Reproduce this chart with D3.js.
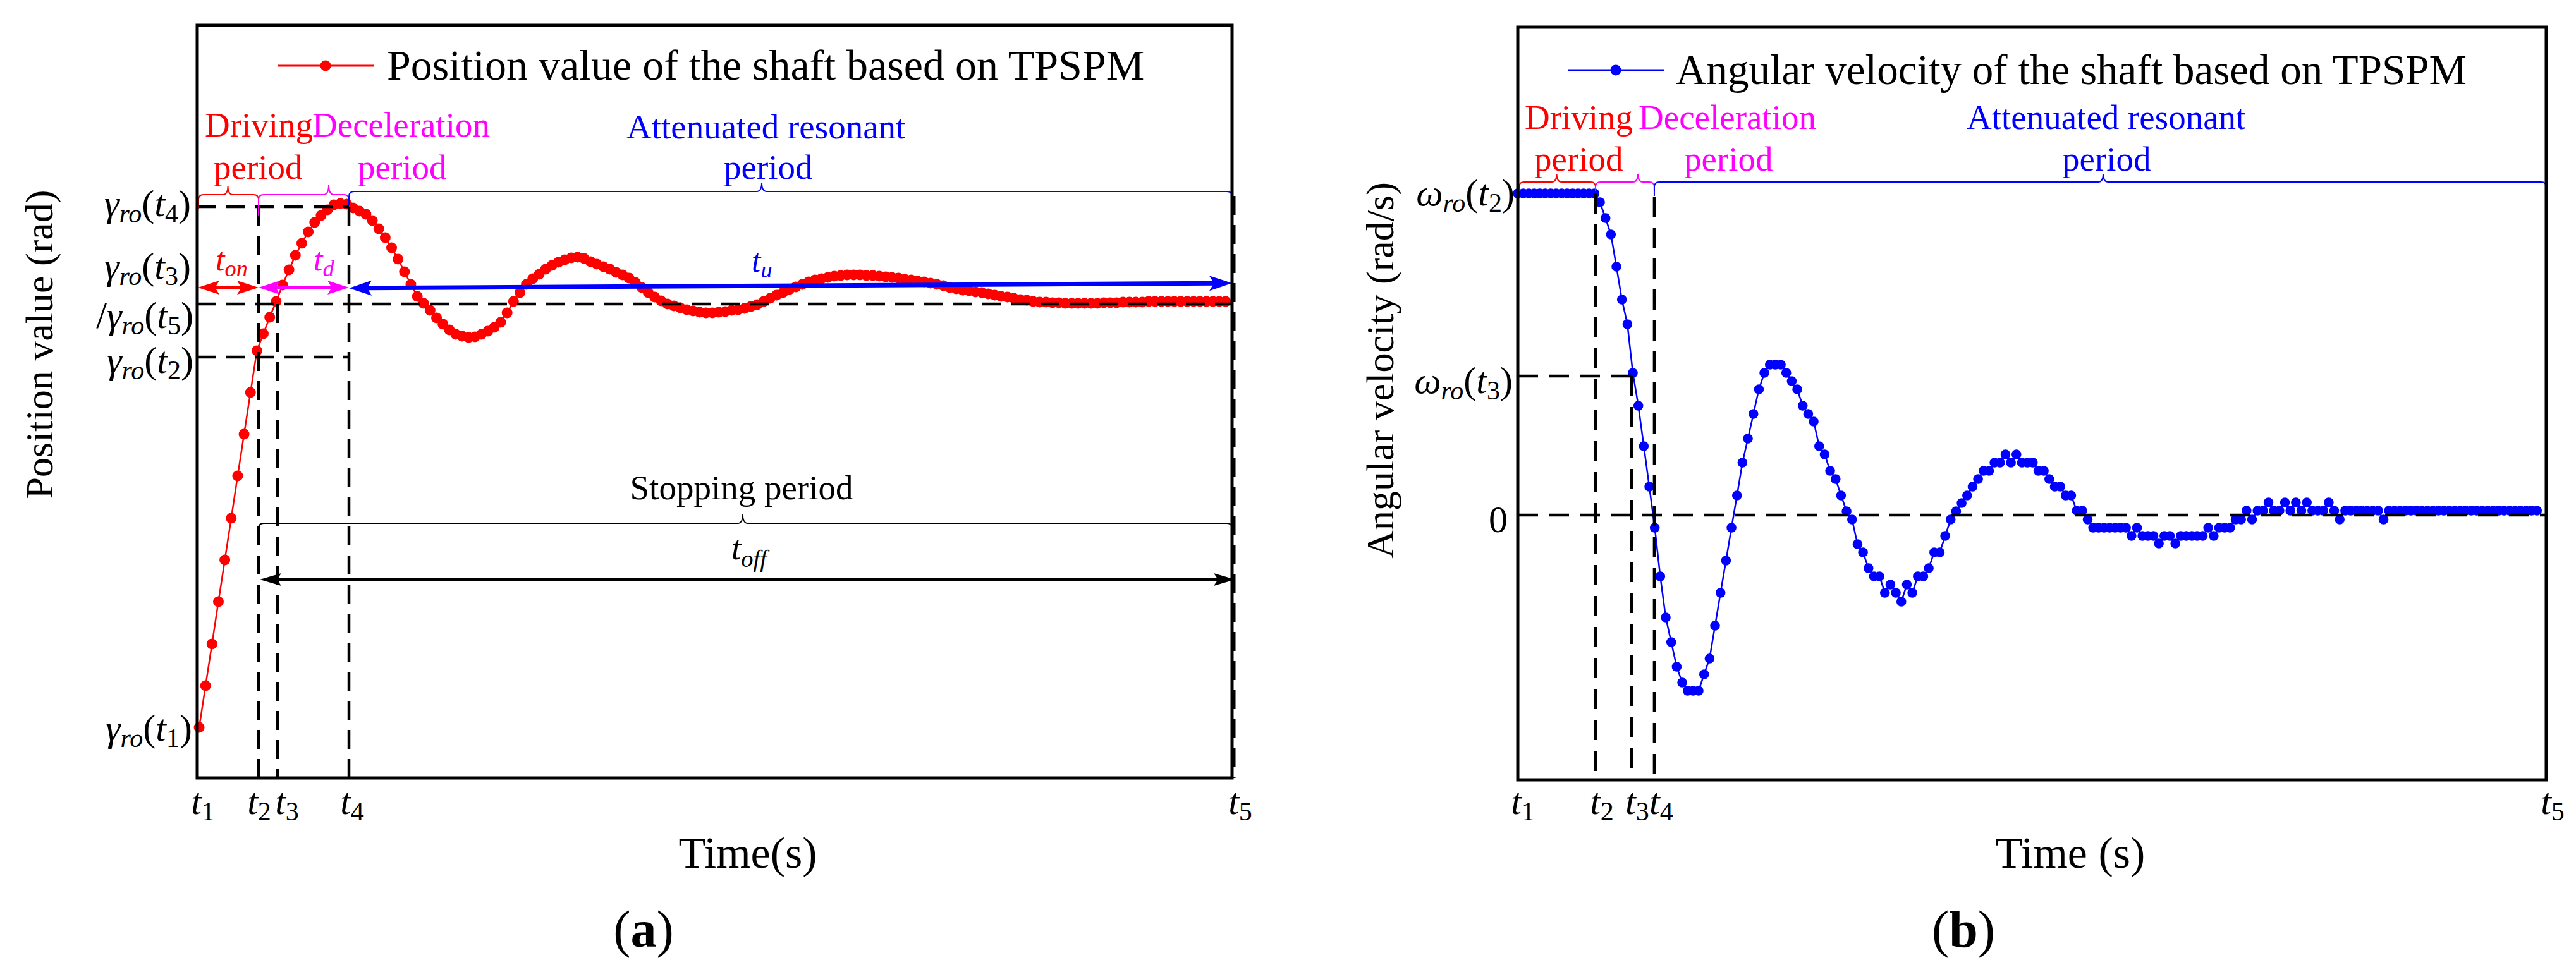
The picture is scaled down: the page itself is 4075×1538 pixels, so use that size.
<!DOCTYPE html>
<html><head><meta charset="utf-8">
<script src="https://cdn.jsdelivr.net/npm/d3@7"></script>
<style>
html,body{margin:0;padding:0;background:#fff;}
svg{display:block;font-family:"Liberation Serif","Times New Roman",serif;}
</style>
</head><body>
<svg id="chart" width="4075" height="1538"></svg>
<script>
// ---------------- DATA ----------------
// (a) position of the shaft, one value per sampling instant (arbitrary units, γro(t1)=0)
const positionValues = [
 6,72,138,205,271,337,404,470,536,602,
 629,655,680,706,730,753,772,790,805,816,
 825,833,835,834,828,823,818,808,795,781,
 765,747,727,707,688,677,666,654,644,635,
 628,625,623,624,628,633,639,647,662,680,
 694,707,716,723,731,737,742,746,749,750,
 748,743,739,735,731,726,722,717,710,702,
 694,687,681,676,673,670,667,665,663,662,
 662,663,664,666,667,669,672,675,680,685,
 690,694,699,703,707,711,714,716,718,720,
 721,722,722,722,721,721,720,719,718,717,
 715,714,712,711,709,707,705,702,700,698,
 697,695,694,692,690,688,687,685,683,682,
 680,679,679,678,678,677,677,677,677,677,
 677,678,678,678,679,679,679,679,680,680,
 680,680,680,680,680,680,680,680,680,680,
 680
];
// (b) angular velocity of the shaft, one value per sampling instant (arbitrary units)
const velocityValues = [
 509,509,509,509,509,509,509,509,509,509,509,509,509,509,509,
 495,470,444,393,341,302,225,173,109,45,
 -20,-97,-162,-201,-240,-265,-278,-278,-278,-252,
 -227,-175,-123,-72,-20,31,83,121,160,199,
 225,238,238,238,225,212,199,173,160,148,
 109,96,70,57,31,6,-7,-46,-59,-84,
 -97,-97,-123,-110,-123,-137,-110,-123,-97,-97,
 -84,-59,-59,-33,-7,6,19,31,45,57,
 70,70,83,83,96,83,96,83,83,83,
 70,70,57,45,45,31,31,7,7,-7,
 -20,-20,-20,-20,-20,-20,-20,-33,-20,-33,
 -33,-33,-45,-33,-33,-45,-33,-33,-33,-33,
 -33,-20,-33,-20,-20,-20,-7,-7,7,-7,
 7,7,20,7,7,20,7,20,7,20,
 7,7,7,20,7,-7,7,7,7,7,
 7,7,7,-7,7,7,7,7,7,7,
 7,7,7,7,7,7,7,7,7,7,
 7,7,7,7,7,7,7,7,7,7,7,7
];
// instants t1..t5 on each time axis (sample units)
const posTimeMarks = [-0.3, 9.26, 12.21, 23.35, 161.0];
const velTimeMarks = [0, 14.19, 20.76, 24.91, 187.7];
const timeTickNames = ["1","2","3","4","5"];
// characteristic levels
const posLevels = {t1:0, t2:592, t3t5:676, t4:830};   // γro(t1), γro(t2), γro(t3)/γro(t5), γro(t4)
const posDomain = [-74, 1117];
const velLevels = {t2:509, t3:220, zero:0};           // ωro(t2), ωro(t3), 0
const velDomain = [-419, 772];
// arrow levels (arbitrary units)
const posArrowLevel = 702, posArrowLevelEnd = 709, offArrowLevel = 240;

// ---------------- SETUP ----------------
const svg = d3.select("#chart");
const RED="#ff0000", MAG="#ff00ff", BLUE="#0000ff";
const DASH="30,16";

const xL = d3.scaleLinear().domain([posTimeMarks[0], posTimeMarks[4]]).range([312, 1949]);
const yL = d3.scaleLinear().domain(posDomain).range([1231, 40]);
const xR = d3.scaleLinear().domain([velTimeMarks[0], velTimeMarks[4]]).range([2401, 4028]);
const yR = d3.scaleLinear().domain(velDomain).range([1234, 43]);

const posData = positionValues.map((v,i)=>({t:i, v}));
const velData = velocityValues.map((v,i)=>({t:i, v}));

function richText(g, x, y, parts, o){
  const t = g.append("text").attr("x",x).attr("y",y)
    .attr("text-anchor", o.anchor||"start").attr("font-size", o.size)
    .attr("fill", o.color||"#000");
  let shift = 0;
  parts.forEach(p=>{
    const target = p.sub ? (o.subDy||10) : 0;
    const ts = t.append("tspan").text(p.s).attr("dy", target - shift);
    shift = target;
    if(p.sub) ts.attr("font-size", o.subSize || o.size*0.7);
    if(p.it) ts.attr("font-style","italic");
    if(p.b) ts.attr("font-weight","bold");
  });
  return t;
}
function arrow(g,x1,y1,x2,y2,color,w,startHead,endHead,hl,hw){
  const dx=x2-x1, dy=y2-y1, L=Math.hypot(dx,dy), ux=dx/L, uy=dy/L;
  const sx = startHead ? x1+ux*hl*0.7 : x1, sy = startHead ? y1+uy*hl*0.7 : y1;
  const ex = endHead ? x2-ux*hl*0.7 : x2, ey = endHead ? y2-uy*hl*0.7 : y2;
  g.append("line").attr("x1",sx).attr("y1",sy).attr("x2",ex).attr("y2",ey)
    .attr("stroke",color).attr("stroke-width",w);
  function head(px,py,dx_,dy_){
    const bx=px-dx_*hl, by=py-dy_*hl, nx=-dy_, ny=dx_;
    const mx=px-dx_*hl*0.8, my=py-dy_*hl*0.8;
    g.append("path").attr("d",`M${px},${py}L${bx+nx*hw},${by+ny*hw}L${mx},${my}L${bx-nx*hw},${by-ny*hw}Z`)
      .attr("fill",color);
  }
  if(endHead) head(x2,y2,ux,uy);
  if(startHead) head(x1,y1,-ux,-uy);
}
function brace(g,x0,x1,y,tipX,color,drop0,drop1,tipH,w){
  const r=8;
  const d = `M${x0},${y+drop0}L${x0},${y+r}Q${x0},${y} ${x0+r},${y}`+
            `L${tipX-r},${y}Q${tipX},${y} ${tipX},${y-tipH}Q${tipX},${y} ${tipX+r},${y}`+
            `L${x1-r},${y}Q${x1},${y} ${x1},${y+r}L${x1},${y+drop1}`;
  g.append("path").attr("d",d).attr("fill","none").attr("stroke",color).attr("stroke-width",w);
}
function dashed(g,x1,y1,x2,y2,w,da){
  g.append("line").attr("x1",x1).attr("y1",y1).attr("x2",x2).attr("y2",y2)
    .attr("stroke","#000").attr("stroke-width",w||4.5).attr("stroke-dasharray",da||DASH);
}

// ================= PANEL (a) =================
const gA = svg.append("g");
const T = posTimeMarks.map(t=>xL(t));
const yBot = yL(posDomain[0]), yTop = yL(posDomain[1]);

// data line + dots
gA.append("path").datum(posData)
  .attr("d", d3.line().x(d=>xL(d.t)).y(d=>yL(d.v)))
  .attr("fill","none").attr("stroke",RED).attr("stroke-width",2.5);
gA.append("g").selectAll("circle").data(posData).join("circle")
  .attr("cx",d=>xL(d.t)).attr("cy",d=>yL(d.v)).attr("r",8.5).attr("fill",RED);

// dashed guides
dashed(gA, T[0], yL(posLevels.t4), T[3], yL(posLevels.t4));
dashed(gA, T[0], yL(posLevels.t3t5), T[4], yL(posLevels.t3t5));
dashed(gA, T[0], yL(posLevels.t2), T[3], yL(posLevels.t2));
dashed(gA, T[1], yL(posLevels.t4), T[1], yBot);
dashed(gA, T[2], yL(posLevels.t3t5), T[2], yBot);
dashed(gA, T[3], yL(posLevels.t4), T[3], yBot);
dashed(gA, T[4]+3, 310, T[4]+3, yBot, 5);

// arrows
const ya = yL(posArrowLevel);
arrow(gA, T[0]+1, ya, T[1], ya, RED, 5, true, true, 34, 11);
arrow(gA, T[1], ya, T[3], ya, MAG, 5, true, true, 34, 11);
arrow(gA, T[3], ya+1, T[4], yL(posArrowLevelEnd), BLUE, 7, true, true, 36, 12);
const yo = yL(offArrowLevel);
arrow(gA, T[1]+2, yo, T[4]+5, yo, "#000", 6, true, true, 34, 10);

// braces
brace(gA, T[0]+2, T[1], 308, (T[0]+T[1])/2, RED, 22, 14, 14, 2);
brace(gA, T[1], T[3], 308, 520, MAG, 34, 16, 16, 2);
brace(gA, T[3], T[4], 303, 1205, BLUE, 22, 28, 14, 2);
brace(gA, T[1], T[4], 828, 1175, "#000", 24, 14, 14, 1.8);

// frame
gA.append("rect").attr("x",T[0]).attr("y",yTop).attr("width",T[4]-T[0]).attr("height",yBot-yTop)
  .attr("fill","none").attr("stroke","#000").attr("stroke-width",5);

// legend
gA.append("line").attr("x1",439).attr("x2",592).attr("y1",104).attr("y2",104).attr("stroke",RED).attr("stroke-width",3);
gA.append("circle").attr("cx",515).attr("cy",104).attr("r",8.5).attr("fill",RED);
gA.append("text").attr("x",612).attr("y",126).attr("font-size",68).text("Position value of the shaft based on TPSPM");

// period labels
const ann=(g,x,y,s,c,anchor)=>g.append("text").attr("x",x).attr("y",y).attr("font-size",55).attr("fill",c).attr("text-anchor",anchor||"start").text(s);
ann(gA,324,216,"Driving",RED);
ann(gA,494,216,"Deceleration",MAG);
ann(gA,338,283,"period",RED);
ann(gA,566,283,"period",MAG);
ann(gA,991,219,"Attenuated resonant",BLUE);
ann(gA,1145,283,"period",BLUE);
ann(gA,1173,790,"Stopping period","#000","middle");

richText(gA,341,428,[{s:"t",it:1},{s:"on",it:1,sub:1}],{size:52,color:RED,subDy:9});
richText(gA,496,428,[{s:"t",it:1},{s:"d",it:1,sub:1}],{size:52,color:MAG,subDy:9});
richText(gA,1189,430,[{s:"t",it:1},{s:"u",it:1,sub:1}],{size:52,color:BLUE,subDy:9});
richText(gA,1157,885,[{s:"t",it:1},{s:"off",it:1,sub:1}],{size:55,subDy:12});

// y tick labels
const gLab=(sub)=>[{s:"γ",it:1},{s:"ro",it:1,sub:1},{s:"("},{s:"t",it:1},{s:sub,sub:1},{s:")"}];
richText(gA,302,yL(posLevels.t4)+15,gLab("4"),{size:60,anchor:"end",subDy:10});
richText(gA,302,yL(posLevels.t3t5)-40,gLab("3"),{size:60,anchor:"end",subDy:10});
richText(gA,306,yL(posLevels.t3t5)+38,[{s:"/"}].concat(gLab("5")),{size:60,anchor:"end",subDy:10});
richText(gA,306,yL(posLevels.t2)+25,gLab("2"),{size:60,anchor:"end",subDy:10});
richText(gA,304,yL(posLevels.t1)+15,gLab("1"),{size:60,anchor:"end",subDy:10});

// x tick labels
const offA=[9,1,15,5,13];
posTimeMarks.forEach((t,i)=>{
  richText(gA, xL(t)+offA[i], 1288, [{s:"t",it:1},{s:timeTickNames[i],sub:1}],{size:60,anchor:"middle",subDy:10});
});

// axis titles
gA.append("text").attr("transform","translate(83,545) rotate(-90)").attr("text-anchor","middle")
  .attr("font-size",62).text("Position value (rad)");
gA.append("text").attr("x",1183).attr("y",1373).attr("text-anchor","middle").attr("font-size",70).text("Time(s)");
richText(gA,1018,1498,[{s:"("},{s:"a",b:1},{s:")"}],{size:82,anchor:"middle"});

// ================= PANEL (b) =================
const gB = svg.append("g");
const U = velTimeMarks.map(t=>xR(t));
const yBotR = yR(velDomain[0]), yTopR = yR(velDomain[1]);

gB.append("path").datum(velData)
  .attr("d", d3.line().x(d=>xR(d.t)).y(d=>yR(d.v)))
  .attr("fill","none").attr("stroke",BLUE).attr("stroke-width",2.5);
gB.append("g").selectAll("circle").data(velData).join("circle")
  .attr("cx",d=>xR(d.t)).attr("cy",d=>yR(d.v)).attr("r",7.8).attr("fill",BLUE);

dashed(gB, U[0], yR(velLevels.t3), U[2], yR(velLevels.t3), 4.5, "32,17");
dashed(gB, U[0], yR(velLevels.zero), U[4], yR(velLevels.zero), 4.5, "32,17");
dashed(gB, U[1], yR(velLevels.t2), U[1], yBotR, 4.5, "32,17");
dashed(gB, U[2], yR(velLevels.t3), U[2], yBotR, 4.5, "32,17");
dashed(gB, U[3], 311, U[3], yBotR, 4.5, "32,17");

brace(gB, U[0]+2, U[1], 288, (U[0]+U[1])/2, RED, 14, 14, 13, 2);
brace(gB, U[1], U[3], 288, 2591, MAG, 14, 14, 13, 2);
brace(gB, U[3], U[4], 288, 3327, BLUE, 22, 14, 13, 2);

gB.append("rect").attr("x",U[0]).attr("y",yTopR).attr("width",U[4]-U[0]).attr("height",yBotR-yTopR)
  .attr("fill","none").attr("stroke","#000").attr("stroke-width",5);

gB.append("line").attr("x1",2480).attr("x2",2633).attr("y1",111).attr("y2",111).attr("stroke",BLUE).attr("stroke-width",3);
gB.append("circle").attr("cx",2556).attr("cy",111).attr("r",8.5).attr("fill",BLUE);
gB.append("text").attr("x",2651).attr("y",133).attr("font-size",67).text("Angular velocity of the shaft based on TPSPM");

ann(gB,2412,204,"Driving",RED);
ann(gB,2592,204,"Deceleration",MAG);
ann(gB,2427,270,"period",RED);
ann(gB,2664,270,"period",MAG);
ann(gB,3111,204,"Attenuated resonant",BLUE);
ann(gB,3262,270,"period",BLUE);

const wLab=(sub)=>[{s:"ω",it:1},{s:"ro",it:1,sub:1},{s:"("},{s:"t",it:1},{s:sub,sub:1},{s:")"}];
richText(gB,2396,yR(velLevels.t2)+19,wLab("2"),{size:60,anchor:"end",subDy:10});
richText(gB,2393,yR(velLevels.t3)+27,wLab("3"),{size:60,anchor:"end",subDy:10});
gB.append("text").attr("x",2370).attr("y",yR(velLevels.zero)+27).attr("text-anchor","middle").attr("font-size",60).text("0");

const offB=[8,10,9,11,10];
velTimeMarks.forEach((t,i)=>{
  richText(gB, xR(t)+offB[i], 1288, [{s:"t",it:1},{s:timeTickNames[i],sub:1}],{size:60,anchor:"middle",subDy:10});
});

gB.append("text").attr("transform","translate(2204,586) rotate(-90)").attr("text-anchor","middle")
  .attr("font-size",62).text("Angular velocity (rad/s)");
gB.append("text").attr("x",3275).attr("y",1373).attr("text-anchor","middle").attr("font-size",70).text("Time (s)");
richText(gB,3106,1498,[{s:"("},{s:"b",b:1},{s:")"}],{size:82,anchor:"middle"});
</script>
</body></html>
